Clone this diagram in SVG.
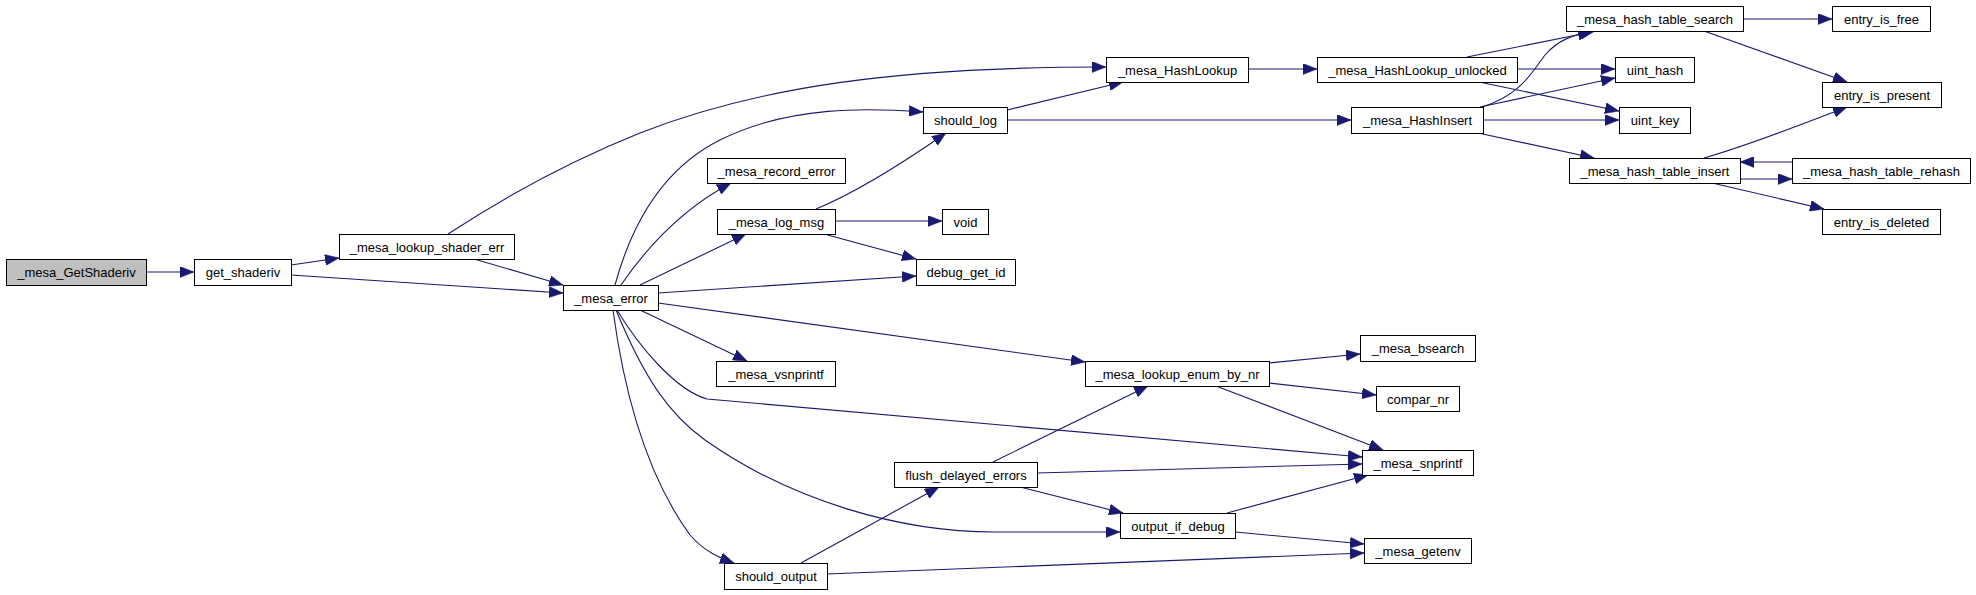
<svg xmlns="http://www.w3.org/2000/svg" width="1976" height="595" viewBox="0 0 1976 595">
<style>
.n rect{fill:#ffffff;stroke:#000000;stroke-width:1}
.n.root rect{fill:#bfbfbf}
.n text{font-family:"Liberation Sans",Arial,sans-serif;font-size:13px;fill:#000000;text-anchor:middle}
.e path{fill:none;stroke:#191970;stroke-width:1.1;marker-end:url(#arr)}
</style>
<defs>
<marker id="arr" markerUnits="userSpaceOnUse" markerWidth="14" markerHeight="11" refX="14" refY="5.5" orient="auto" viewBox="0 0 14 11">
<path d="M0,0 L14,5.5 L0,11 z" fill="#191970" stroke="#191970" stroke-width="0.5"/>
</marker>
</defs>
<rect width="1976" height="595" fill="#ffffff"/>
<g id="edges" class="e">
<path d="M146,272 L194,272"/>
<path d="M291,265 L339,258"/>
<path d="M291,275 L563,293"/>
<path d="M474,259 L563,285"/>
<path d="M448,234 C500,200 560,165 640,133 C760,86 900,67 1106,67"/>
<path d="M615,285 C630,230 660,170 720,140 C790,105 870,108 923,112"/>
<path d="M621,285 C645,250 680,210 731,183"/>
<path d="M640,285 L746,234"/>
<path d="M658,293 L916,276"/>
<path d="M640,310 L747,361"/>
<path d="M658,303 L1085,362"/>
<path d="M617,310 C638,345 675,390 707,399 L1362,457"/>
<path d="M616,310 C645,380 670,415 705,440 C790,500 900,533 1000,532 C1050,532 1090,532 1120,532"/>
<path d="M613,310 C625,400 650,480 690,535 C705,552 720,558 734,563"/>
<path d="M1007,110 L1123,82"/>
<path d="M1007,120 L1351,120"/>
<path d="M816,209 C850,195 900,165 946,133"/>
<path d="M835,221 L942,221"/>
<path d="M824,234 L916,259"/>
<path d="M1248,69 L1317,69"/>
<path d="M1467,57 L1592,32"/>
<path d="M1517,69 L1615,69"/>
<path d="M1479,82 L1619,111"/>
<path d="M1482,107 C1520,95 1530,75 1545,55 C1558,40 1572,35 1595,31"/>
<path d="M1480,107 L1615,78"/>
<path d="M1483,120 L1619,120"/>
<path d="M1478,133 L1594,158"/>
<path d="M1743,19 L1832,19"/>
<path d="M1704,31 L1847,82"/>
<path d="M1704,158 C1750,145 1800,125 1847,107"/>
<path d="M1792,162 L1740,162"/>
<path d="M1740,179 L1792,179"/>
<path d="M1712,183 L1824,209"/>
<path d="M1269,363 L1360,354"/>
<path d="M1269,383 L1376,395"/>
<path d="M1216,386 L1383,450"/>
<path d="M993,462 L1148,386"/>
<path d="M1037,473 L1362,464"/>
<path d="M1020,487 L1123,513"/>
<path d="M1227,513 L1368,475"/>
<path d="M1235,532 L1364,544"/>
<path d="M801,563 L939,487"/>
<path d="M827,574 L1364,553"/>
</g>
<g id="n_GetShaderiv" class="n root"><rect x="6.5" y="259.5" width="140" height="26"/><text x="76.5" y="277">_mesa_GetShaderiv</text></g>
<g id="n_get_shaderiv" class="n"><rect x="194.5" y="259.5" width="97" height="26"/><text x="243" y="277">get_shaderiv</text></g>
<g id="n_lookup_shader_err" class="n"><rect x="339.5" y="234.5" width="175" height="25"/><text x="427" y="251.5">_mesa_lookup_shader_err</text></g>
<g id="n_mesa_error" class="n"><rect x="563.5" y="285.5" width="95" height="25"/><text x="611" y="302.5">_mesa_error</text></g>
<g id="n_HashLookup" class="n"><rect x="1106.5" y="57.5" width="142" height="25"/><text x="1177.5" y="74.5">_mesa_HashLookup</text></g>
<g id="n_should_log" class="n"><rect x="923.5" y="107.5" width="84" height="26"/><text x="965.5" y="125">should_log</text></g>
<g id="n_record_error" class="n"><rect x="707.5" y="158.5" width="138" height="25"/><text x="776.5" y="175.5">_mesa_record_error</text></g>
<g id="n_log_msg" class="n"><rect x="717.5" y="209.5" width="118" height="25"/><text x="776.5" y="226.5">_mesa_log_msg</text></g>
<g id="n_void" class="n"><rect x="942.5" y="209.5" width="46" height="25"/><text x="965.5" y="226.5">void</text></g>
<g id="n_debug_get_id" class="n"><rect x="916.5" y="259.5" width="99" height="26"/><text x="966" y="277">debug_get_id</text></g>
<g id="n_vsnprintf" class="n"><rect x="716.5" y="361.5" width="119" height="25"/><text x="776" y="378.5">_mesa_vsnprintf</text></g>
<g id="n_lookup_enum" class="n"><rect x="1085.5" y="361.5" width="184" height="25"/><text x="1177.5" y="378.5">_mesa_lookup_enum_by_nr</text></g>
<g id="n_flush" class="n"><rect x="894.5" y="462.5" width="143" height="25"/><text x="966" y="479.5">flush_delayed_errors</text></g>
<g id="n_output_if_debug" class="n"><rect x="1120.5" y="513.5" width="115" height="25"/><text x="1178" y="530.5">output_if_debug</text></g>
<g id="n_should_output" class="n"><rect x="724.5" y="563.5" width="103" height="26"/><text x="776" y="581">should_output</text></g>
<g id="n_HashLookup_unlocked" class="n"><rect x="1317.5" y="57.5" width="200" height="25"/><text x="1417.5" y="74.5">_mesa_HashLookup_unlocked</text></g>
<g id="n_HashInsert" class="n"><rect x="1351.5" y="107.5" width="132" height="26"/><text x="1417.5" y="125">_mesa_HashInsert</text></g>
<g id="n_table_search" class="n"><rect x="1566.5" y="6.5" width="177" height="25"/><text x="1655" y="23.5">_mesa_hash_table_search</text></g>
<g id="n_entry_is_free" class="n"><rect x="1832.5" y="6.5" width="98" height="25"/><text x="1881.5" y="23.5">entry_is_free</text></g>
<g id="n_uint_hash" class="n"><rect x="1615.5" y="57.5" width="79" height="25"/><text x="1655" y="74.5">uint_hash</text></g>
<g id="n_uint_key" class="n"><rect x="1619.5" y="107.5" width="71" height="26"/><text x="1655" y="125">uint_key</text></g>
<g id="n_entry_is_present" class="n"><rect x="1822.5" y="82.5" width="119" height="25"/><text x="1882" y="99.5">entry_is_present</text></g>
<g id="n_table_insert" class="n"><rect x="1569.5" y="158.5" width="171" height="25"/><text x="1655" y="175.5">_mesa_hash_table_insert</text></g>
<g id="n_table_rehash" class="n"><rect x="1792.5" y="158.5" width="178" height="25"/><text x="1881.5" y="175.5">_mesa_hash_table_rehash</text></g>
<g id="n_entry_is_deleted" class="n"><rect x="1822.5" y="209.5" width="118" height="25"/><text x="1881.5" y="226.5">entry_is_deleted</text></g>
<g id="n_bsearch" class="n"><rect x="1360.5" y="335.5" width="115" height="26"/><text x="1418" y="353">_mesa_bsearch</text></g>
<g id="n_compar_nr" class="n"><rect x="1376.5" y="386.5" width="83" height="25"/><text x="1418" y="403.5">compar_nr</text></g>
<g id="n_snprintf" class="n"><rect x="1362.5" y="450.5" width="111" height="25"/><text x="1418" y="467.5">_mesa_snprintf</text></g>
<g id="n_getenv" class="n"><rect x="1364.5" y="538.5" width="107" height="25"/><text x="1418" y="555.5">_mesa_getenv</text></g>
</svg>
